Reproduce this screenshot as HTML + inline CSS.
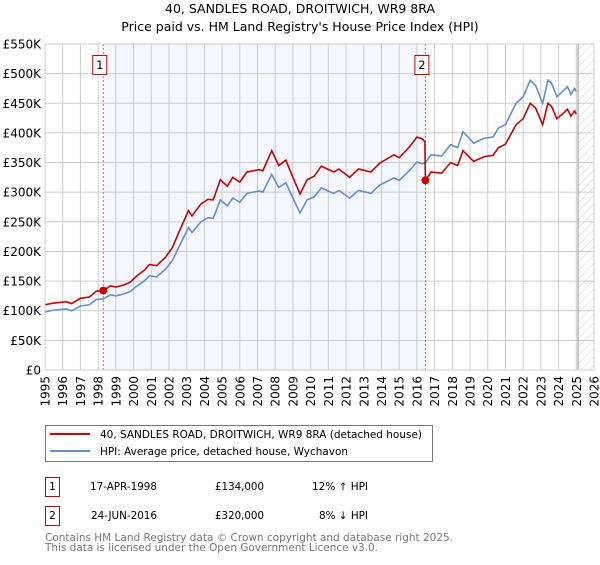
<!DOCTYPE html>
<html><head><meta charset="utf-8"><style>
body{margin:0;background:#fff;font-family:"Liberation Sans","DejaVu Sans",sans-serif;}
svg text{font-family:"DejaVu Sans","Liberation Sans",sans-serif;}
</style></head><body>
<svg id="chart" width="600" height="560" viewBox="0 0 600 560" xmlns="http://www.w3.org/2000/svg">
<defs><pattern id="hatch" width="6" height="6" patternUnits="userSpaceOnUse" patternTransform="rotate(45)"><line x1="0" y1="0" x2="0" y2="6" stroke="#ccc" stroke-width="1"/></pattern></defs>
<text x="300" y="13" text-anchor="middle" font-size="12.5" fill="#000">40, SANDLES ROAD, DROITWICH, WR9 8RA</text>
<text x="300" y="31" text-anchor="middle" font-size="12.5" fill="#000">Price paid vs. HM Land Registry's House Price Index (HPI)</text>
<g id="plot"></g>
<g id="legend">
<rect x="45.5" y="425.5" width="387" height="36" fill="#fff" stroke="#777"/>
<line x1="50" y1="434" x2="90" y2="434" stroke="#cc0000" stroke-width="2"/>
<text x="100" y="438" font-size="10.5" textLength="322" lengthAdjust="spacingAndGlyphs">40, SANDLES ROAD, DROITWICH, WR9 8RA (detached house)</text>
<line x1="50" y1="451" x2="90" y2="451" stroke="#6090d0" stroke-width="2"/>
<text x="100" y="455" font-size="10.5" textLength="248" lengthAdjust="spacingAndGlyphs">HPI: Average price, detached house, Wychavon</text>
</g>
<g font-size="10.5">
<rect x="45.5" y="477.5" width="14" height="19" fill="#fff" stroke="#cc0000"/>
<text x="52.5" y="490" text-anchor="middle">1</text>
<text x="90" y="490" textLength="67" lengthAdjust="spacingAndGlyphs">17-APR-1998</text><text x="215" y="490" textLength="49" lengthAdjust="spacingAndGlyphs">£134,000</text><text x="312" y="490" textLength="56" lengthAdjust="spacingAndGlyphs">12% ↑ HPI</text>
<rect x="45.5" y="506.5" width="14" height="19" fill="#fff" stroke="#cc0000"/>
<text x="52.5" y="519" text-anchor="middle">2</text>
<text x="91" y="519" textLength="66" lengthAdjust="spacingAndGlyphs">24-JUN-2016</text><text x="215" y="519" textLength="49" lengthAdjust="spacingAndGlyphs">£320,000</text><text x="319" y="519" textLength="49" lengthAdjust="spacingAndGlyphs">8% ↓ HPI</text>
</g>
<text x="45" y="541" font-size="10.5" fill="#777" textLength="408" lengthAdjust="spacingAndGlyphs">Contains HM Land Registry data © Crown copyright and database right 2025.</text>
<text x="45" y="551" font-size="10.5" fill="#777" textLength="333" lengthAdjust="spacingAndGlyphs">This data is licensed under the Open Government Licence v3.0.</text>
</svg>
<script>
const hpiYears=[1995.0,1995.5,1996.2,1996.5,1997.0,1997.5,1997.9,1998.3,1998.7,1999.0,1999.4,1999.8,2000.2,2000.6,2000.9,2001.3,2001.8,2002.2,2002.6,2003.1,2003.3,2003.8,2004.2,2004.5,2004.9,2005.3,2005.6,2006.0,2006.4,2007.1,2007.3,2007.8,2008.2,2008.6,2009.0,2009.4,2009.8,2010.2,2010.6,2011.3,2011.6,2012.2,2012.7,2013.4,2013.9,2014.7,2015.0,2015.6,2016.0,2016.3,2016.48,2016.8,2017.4,2017.9,2018.3,2018.6,2019.2,2019.8,2020.3,2020.6,2021.0,2021.6,2022.0,2022.4,2022.7,2023.1,2023.4,2023.6,2023.9,2024.3,2024.5,2024.7,2024.9,2025.0];
const hpiValues=[98,101,103,100,108,110,119,120,127,125,128,132,142,150,159,157,170,185,210,240,232,250,257,256,287,277,290,283,298,302,300,330,308,316,290,265,287,292,307,298,303,290,303,298,312,324,320,337,351,348,350,363,361,380,375,402,383,391,393,408,414,450,461,489,480,450,489,484,461,472,478,465,475,470];
const priceYears=[1995.0,1995.5,1996.2,1996.5,1997.0,1997.5,1997.9,1998.3,1998.7,1999.0,1999.4,1999.8,2000.2,2000.6,2000.9,2001.3,2001.8,2002.2,2002.6,2003.1,2003.3,2003.8,2004.2,2004.5,2004.9,2005.3,2005.6,2006.0,2006.4,2007.1,2007.3,2007.8,2008.2,2008.6,2009.0,2009.4,2009.8,2010.2,2010.6,2011.3,2011.6,2012.2,2012.7,2013.4,2013.9,2014.7,2015.0,2015.6,2016.0,2016.3,2016.45,2016.48,2016.8,2017.4,2017.9,2018.3,2018.6,2019.2,2019.8,2020.3,2020.6,2021.0,2021.6,2022.0,2022.4,2022.7,2023.1,2023.4,2023.6,2023.9,2024.3,2024.5,2024.7,2024.9,2025.0];
const priceValues=[110,113,115,112,121,123,133,134,142,140,143,148,159,168,178,176,190,207,235,269,260,280,288,287,321,310,325,317,334,338,336,370,345,354,325,297,321,327,344,334,339,325,339,334,349,363,358,377,393,390,385,320,334,332,350,345,370,352,360,362,375,381,414,424,450,442,414,450,445,424,434,440,428,437,432];
const saleYears=[1998.29,2016.48];
const saleValues=[134,320];
const saleLabels=["1","2"];
const yTicks=[0,50,100,150,200,250,300,350,400,450,500,550];
const yTickLabels=["£0","£50K","£100K","£150K","£200K","£250K","£300K","£350K","£400K","£450K","£500K","£550K"];
const xTicks=[1995,1996,1997,1998,1999,2000,2001,2002,2003,2004,2005,2006,2007,2008,2009,2010,2011,2012,2013,2014,2015,2016,2017,2018,2019,2020,2021,2022,2023,2024,2025,2026];
const dataEndYear=2025.1;

const L=45,R=594,T=44,B=370,x0=1995,x1=2026,yMax=550;
const X=y=>L+(y-x0)/(x1-x0)*(R-L);
const Y=v=>B-v/yMax*(B-T);
const NS="http://www.w3.org/2000/svg";
const plot=document.getElementById('plot');
function mk(tag,attrs,parent){const e=document.createElementNS(NS,tag);for(const k in attrs)e.setAttribute(k,attrs[k]);(parent||plot).appendChild(e);return e;}

const bg=mk('rect',{x:L,y:T,width:R-L,height:B-T,fill:'#fff'});


const shade=mk('rect',{x:X(saleYears[0]),y:T,width:X(saleYears[1])-X(saleYears[0]),height:B-T,fill:'#f4f7fe'});


const hat=mk('rect',{x:X(dataEndYear),y:T,width:R-X(dataEndYear),height:B-T,fill:'url(#hatch)'});



yTicks.forEach((v,i)=>{
  const g=mk('line',{x1:L,x2:R,y1:Y(v),y2:Y(v),stroke:'#ccc','stroke-width':1});
  
  
  const t=mk('text',{x:L-4,y:Y(v)+4.5,'text-anchor':'end','font-size':12,fill:'#000'});
  
  
  t.textContent=yTickLabels[i];
});
xTicks.forEach(yr=>{
  const g=mk('line',{x1:X(yr),x2:X(yr),y1:T,y2:B,stroke:'#ccc','stroke-width':1});
  
  
  const t=mk('text',{x:0,y:0,'text-anchor':'end','font-size':12,fill:'#000',transform:`translate(${X(yr)+4.5},${B+6}) rotate(-90)`});
  
  
  t.textContent=yr;
});
const endLine=mk('line',{x1:X(dataEndYear),x2:X(dataEndYear),y1:T,y2:B,stroke:'#999','stroke-width':1});



saleYears.forEach((yr,i)=>{
  const l=mk('line',{x1:X(yr),x2:X(yr),y1:T,y2:B,stroke:'#e06060','stroke-width':1,'stroke-dasharray':'2,2'});
  
  
  const r=mk('rect',{x:X(yr)-10.5,y:55.5,width:14,height:19,fill:'#fff',stroke:'#cc0000'});
  
  
  const t=mk('text',{x:X(yr)-3.5,y:69,'text-anchor':'middle','font-size':11.5});
  
  
  t.textContent=saleLabels[i];
});

const hp=mk('polyline',{points:hpiYears.map((y,i)=>X(y)+','+Y(hpiValues[i])).join(' '),fill:'none',stroke:'#6090d0','stroke-width':1.6});


const pp=mk('polyline',{points:priceYears.map((y,i)=>X(y)+','+Y(priceValues[i])).join(' '),fill:'none',stroke:'#cc0000','stroke-width':1.6});


saleYears.forEach((yr,i)=>{
  const c=mk('circle',{cx:X(yr),cy:Y(saleValues[i]),r:4,fill:'#cc0000'});
  
  
});
const frame=mk('rect',{x:L,y:T,width:R-L,height:B-T,fill:'none',stroke:'#ccc'});


</script>
</body></html>
